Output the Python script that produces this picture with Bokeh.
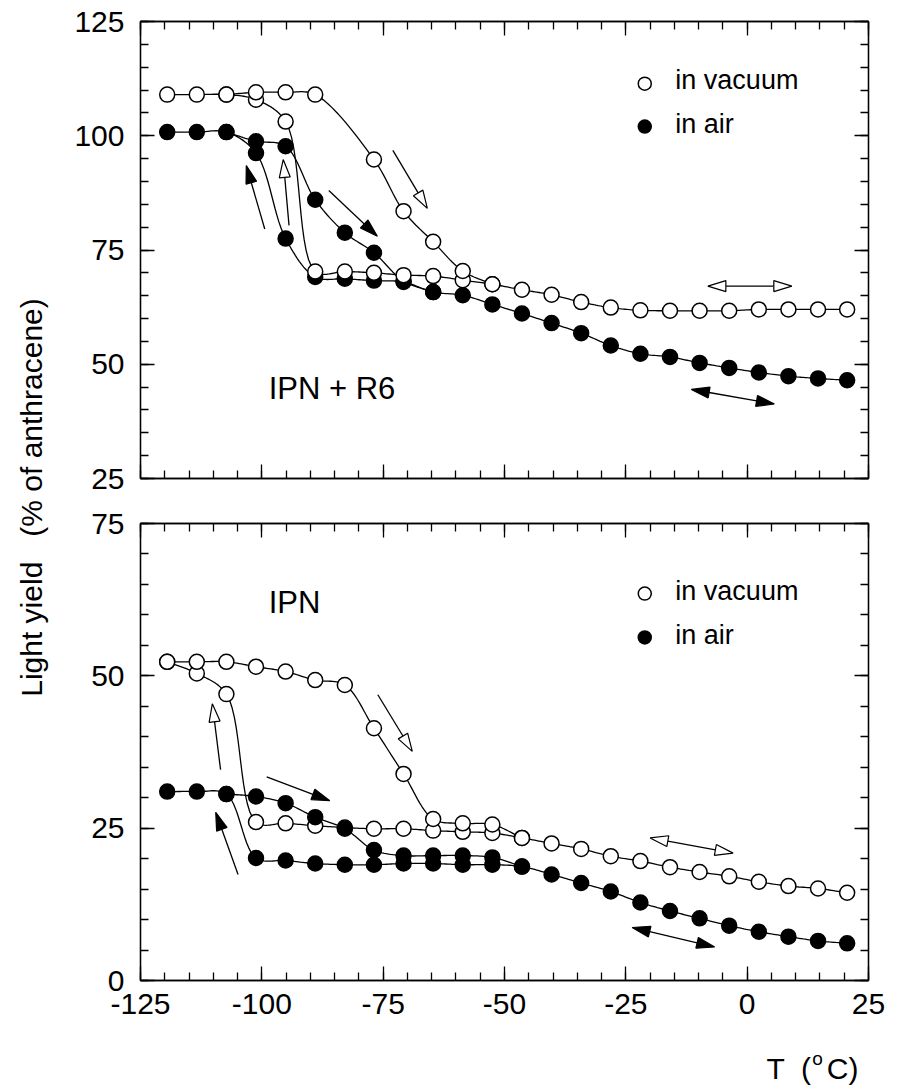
import numpy as np
from bokeh.plotting import figure
from bokeh.layouts import row, column
from bokeh.models import Range1d, LinearAxis, SingleIntervalTicker, Label
from bokeh.embed import file_html
from bokeh.resources import INLINE

FONT = "Liberation Sans"

# ---------------- data ----------------
temps = [-119.5, -113.4, -107.3, -101.2, -95.1, -89.0, -82.9, -76.9, -70.8, -64.7,
         -58.6, -52.5, -46.4, -40.3, -34.2, -28.1, -22.0, -15.9, -9.8, -3.7,
         2.4, 8.5, 14.6, 20.6]

x_ticks = [-125, -100, -75, -50, -25, 0, 25]
x_tick_labels = ["-125", "-100", "-75", "-50", "-25", "0", "25"]

# IPN + R6 (upper panel)
r6_vac_cool = [109.0, 109.0, 109.0, 107.9, 103.1, 70.3, 70.3, 70.0, 69.5, 69.3,
               68.4, 67.5, 66.3, 65.2, 63.6, 62.4, 61.8, 61.7, 61.7, 61.7,
               62.0, 62.0, 62.0, 62.0]
r6_vac_heat_T = [-107.3, -101.2, -95.1, -89.0, -76.9, -70.8, -64.7, -58.6, -52.5]
r6_vac_heat = [109.0, 109.5, 109.5, 109.0, 94.8, 83.5, 76.8, 70.4, 67.5]

r6_air_cool = [100.8, 100.8, 100.8, 96.2, 77.5, 69.1, 68.7, 68.3, 68.0, 65.8,
               65.1, 63.1, 61.1, 59.0, 56.8, 54.1, 52.3, 51.6, 50.3, 49.2,
               48.2, 47.4, 46.9, 46.5]
r6_air_heat_T = [-107.3, -101.2, -95.1, -89.0, -82.9, -76.9, -70.8, -64.7]
r6_air_heat = [100.8, 98.8, 97.7, 86.0, 78.8, 74.4, 68.2, 65.8]

# IPN (lower panel)
ipn_vac_cool = [52.3, 50.4, 47.0, 26.0, 25.8, 25.4, 25.1, 24.9, 24.9, 24.6,
                24.4, 24.2, 23.4, 22.5, 21.6, 20.4, 19.6, 18.6, 17.8, 17.1,
                16.2, 15.5, 15.1, 14.4]
ipn_vac_heat_T = [-119.5, -113.4, -107.3, -101.2, -95.1, -89.0, -82.9, -76.9,
                  -70.8, -64.7, -58.6, -52.5, -46.4]
ipn_vac_heat = [52.3, 52.3, 52.3, 51.5, 50.7, 49.3, 48.5, 41.4, 33.9, 26.5,
                25.8, 25.6, 23.4]

ipn_air_cool = [31.0, 31.0, 30.6, 20.1, 19.7, 19.2, 19.0, 19.0, 19.2, 19.2,
                19.0, 19.0, 18.7, 17.4, 16.0, 14.6, 12.8, 11.4, 10.2, 9.0,
                8.0, 7.2, 6.5, 6.1]
ipn_air_heat_T = [-107.3, -101.2, -95.1, -89.0, -82.9, -76.9, -70.8, -64.7,
                  -58.6, -52.5, -46.4]
ipn_air_heat = [30.6, 30.2, 29.1, 26.8, 24.9, 21.4, 20.5, 20.5, 20.5, 20.2, 18.7]

# arrows: start x, start y, end x, end y, head fill, double-headed
r6_arrow_x0 = [-73.0, -86.2, -94.4, -99.4, -8.1, -11.5]
r6_arrow_y0 = [96.8, 88.0, 80.4, 79.6, 67.1, 44.5]
r6_arrow_x1 = [-65.9, -76.2, -95.6, -103.2, 9.2, 5.6]
r6_arrow_y1 = [84.1, 78.0, 94.8, 93.5, 67.1, 41.3]
r6_arrow_fill = ["white", "black", "white", "black", "white", "black"]
r6_arrow_both = [False, False, False, False, True, True]

ipn_arrow_x0 = [-108.5, -104.9, -99.0, -76.1, -20.0, -23.7]
ipn_arrow_y0 = [34.6, 17.4, 33.4, 46.9, 23.4, 8.7]
ipn_arrow_x1 = [-110.2, -109.5, -86.0, -69.0, -2.9, -6.7]
ipn_arrow_y1 = [45.4, 27.6, 29.5, 37.6, 20.9, 5.5]
ipn_arrow_fill = ["white", "black", "black", "white", "white", "black"]
ipn_arrow_both = [False, False, False, False, True, True]

legend_labels = ["in vacuum", "in air"]
panel_titles = ["IPN + R6", "IPN"]

# ---------------- geometry / style ----------------
FW, FH = 728, 457
XR = (-125, 25)
SX = FW / (XR[1] - XR[0])
LW = 1.3
MS = 15
HEAD_LEN, HEAD_HW = 18.0, 5.5
TICK_FS = "30px"
TITLE_FS = "31px"
LEG_FS = "27px"


def smooth(xs, ys, sx, sy, n=14):
    """Centripetal Catmull-Rom curve through the data points (drawing only)."""
    P = np.column_stack([np.asarray(xs, float) * sx, np.asarray(ys, float) * sy])
    P = np.vstack([2 * P[0] - P[1], P, 2 * P[-1] - P[-2]])
    out = []
    m = len(P)
    for i in range(1, m - 2):
        p0, p1, p2, p3 = P[i - 1], P[i], P[i + 1], P[i + 2]

        def tj(ti, a, b):
            return ti + max(np.linalg.norm(b - a), 1e-6) ** 0.5
        t0 = 0.0
        t1 = tj(t0, p0, p1)
        t2 = tj(t1, p1, p2)
        t3 = tj(t2, p2, p3)
        t = np.linspace(t1, t2, n, endpoint=(i == m - 3))[:, None]
        A1 = (t1 - t) / (t1 - t0) * p0 + (t - t0) / (t1 - t0) * p1
        A2 = (t2 - t) / (t2 - t1) * p1 + (t - t1) / (t2 - t1) * p2
        A3 = (t3 - t) / (t3 - t2) * p2 + (t - t2) / (t3 - t2) * p3
        B1 = (t2 - t) / (t2 - t0) * A1 + (t - t0) / (t2 - t0) * A2
        B2 = (t3 - t) / (t3 - t1) * A2 + (t - t1) / (t3 - t1) * A3
        out.append((t2 - t) / (t2 - t1) * B1 + (t - t1) / (t2 - t1) * B2)
    C = np.vstack(out)
    return C[:, 0] / sx, C[:, 1] / sy


def draw_arrow(p, x0, y0, x1, y1, fill, both, sy):
    a = np.array([x0 * SX, y0 * sy])
    b = np.array([x1 * SX, y1 * sy])
    u = (b - a) / np.linalg.norm(b - a)
    nrm = np.array([-u[1], u[0]])
    s0 = a + u * HEAD_LEN if both else a
    s1 = b - u * HEAD_LEN
    p.line([s0[0] / SX, s1[0] / SX], [s0[1] / sy, s1[1] / sy],
           line_color="black", line_width=LW)
    heads = [(b, u)] + ([(a, -u)] if both else [])
    for tip, d in heads:
        base = tip - d * HEAD_LEN
        pts = [tip, base + nrm * HEAD_HW, base - nrm * HEAD_HW]
        p.patch([q[0] / SX for q in pts], [q[1] / sy for q in pts],
                fill_color=fill, line_color="black", line_width=1.2)


def style_axis(ax, labels, standoff=0, overrides=None):
    ax.ticker = SingleIntervalTicker(interval=25, num_minor_ticks=5)
    ax.major_tick_in = 14
    ax.major_tick_out = 0
    ax.minor_tick_in = 8
    ax.minor_tick_out = 0
    ax.axis_line_color = "black"
    ax.axis_line_width = LW
    ax.major_tick_line_color = "black"
    ax.major_tick_line_width = LW
    ax.minor_tick_line_color = "black"
    ax.minor_tick_line_width = LW
    ax.axis_label = None
    if labels:
        ax.major_label_text_font = FONT
        ax.major_label_text_font_size = TICK_FS
        ax.major_label_text_color = "black"
        ax.major_label_standoff = standoff
        if overrides:
            ax.major_label_overrides = overrides
    else:
        ax.major_label_text_font_size = "0px"
        ax.major_label_text_color = None
        ax.major_label_standoff = 0


def make_panel(yr, border_top, border_bottom, bottom_labels):
    p = figure(x_range=Range1d(*XR), y_range=Range1d(*yr),
               frame_width=FW, frame_height=FH,
               output_backend="svg", toolbar_location=None,
               min_border_left=82, min_border_right=25,
               min_border_top=border_top, min_border_bottom=border_bottom)
    p.xgrid.grid_line_color = None
    p.ygrid.grid_line_color = None
    p.outline_line_color = "black"
    p.outline_line_width = LW
    p.background_fill_color = "white"
    p.border_fill_color = "white"
    style_axis(p.xaxis[0], bottom_labels, 13,
               {t: s for t, s in zip(x_ticks, x_tick_labels)})
    style_axis(p.yaxis[0], True, 16)
    ra = LinearAxis()
    style_axis(ra, False)
    p.add_layout(ra, "right")
    ta = LinearAxis()
    style_axis(ta, False)
    p.add_layout(ta, "above")
    return p


def draw_series(p, xs, ys, fill, sy):
    sxs, sys_ = smooth(xs, ys, SX, sy)
    p.line(sxs, sys_, line_color="black", line_width=LW)
    p.scatter(xs, ys, size=MS, marker="circle", fill_color=fill,
              line_color="black", line_width=1.5)


def add_text(p, x, y, text, size=TITLE_FS, align="left"):
    p.add_layout(Label(x=x, y=y, text=text, text_font=FONT, text_font_size=size,
                       text_color="black", text_align=align,
                       text_baseline="middle"))


# ---------------- upper panel: IPN + R6 ----------------
top = make_panel((25, 125), 21, 22, False)
SY_TOP = FH / 100.0
draw_series(top, temps, r6_air_cool, "black", SY_TOP)
draw_series(top, r6_air_heat_T, r6_air_heat, "black", SY_TOP)
draw_series(top, temps, r6_vac_cool, "white", SY_TOP)
draw_series(top, r6_vac_heat_T, r6_vac_heat, "white", SY_TOP)
for i in range(len(r6_arrow_x0)):
    draw_arrow(top, r6_arrow_x0[i], r6_arrow_y0[i], r6_arrow_x1[i], r6_arrow_y1[i],
               r6_arrow_fill[i], r6_arrow_both[i], SY_TOP)
top.scatter([-21.1], [111.4], size=13, marker="circle", fill_color="white",
            line_color="black", line_width=1.5)
top.scatter([-21.1], [102.0], size=13, marker="circle", fill_color="black",
            line_color="black", line_width=1.5)
add_text(top, -14.8, 112.2, legend_labels[0], LEG_FS)
add_text(top, -14.8, 102.6, legend_labels[1], LEG_FS)
add_text(top, -98.6, 44.8, panel_titles[0])

# ---------------- lower panel: IPN ----------------
bot = make_panel((0, 75), 23, 50, True)
SY_BOT = FH / 75.0
draw_series(bot, temps, ipn_vac_cool, "white", SY_BOT)
draw_series(bot, ipn_vac_heat_T, ipn_vac_heat, "white", SY_BOT)
draw_series(bot, temps, ipn_air_cool, "black", SY_BOT)
draw_series(bot, ipn_air_heat_T, ipn_air_heat, "black", SY_BOT)
for i in range(len(ipn_arrow_x0)):
    draw_arrow(bot, ipn_arrow_x0[i], ipn_arrow_y0[i], ipn_arrow_x1[i], ipn_arrow_y1[i],
               ipn_arrow_fill[i], ipn_arrow_both[i], SY_BOT)
bot.scatter([-21.1], [63.5], size=13, marker="circle", fill_color="white",
            line_color="black", line_width=1.5)
bot.scatter([-21.1], [56.3], size=13, marker="circle", fill_color="black",
            line_color="black", line_width=1.5)
add_text(bot, -14.8, 63.9, legend_labels[0], LEG_FS)
add_text(bot, -14.8, 56.7, legend_labels[1], LEG_FS)
add_text(bot, -98.6, 62.0, panel_titles[1])

# ---------------- x-axis title "T  (oC)" in a strip below ----------------
xl = figure(x_range=Range1d(*XR), y_range=Range1d(0, 60),
            frame_width=FW, frame_height=60,
            output_backend="svg", toolbar_location=None,
            x_axis_location=None, y_axis_location=None,
            min_border_left=82, min_border_right=25,
            min_border_top=0, min_border_bottom=0)
xl.xgrid.grid_line_color = None
xl.ygrid.grid_line_color = None
xl.outline_line_color = None
add_text(xl, 4.0, 22.0, "T \u00a0(", TICK_FS)
add_text(xl, 13.4, 32.0, "o", "19px")
add_text(xl, 16.4, 22.0, "C)", TICK_FS)

# ---------------- shared y-axis title ----------------
lab = figure(width=58, height=1090, x_range=Range1d(0, 58), y_range=Range1d(0, 1090),
             output_backend="svg", toolbar_location=None,
             x_axis_location=None, y_axis_location=None, min_border=0)
lab.xgrid.grid_line_color = None
lab.ygrid.grid_line_color = None
lab.outline_line_color = None
lab.add_layout(Label(x=31, y=1090 - 497, text="Light yield \u00a0 (% of anthracene)",
                     angle=np.pi / 2, text_font=FONT, text_font_size=TICK_FS,
                     text_color="black", text_align="center", text_baseline="middle"))

layout = row(lab, column(top, bot, xl))
open("out.html", "w").write(file_html(layout, INLINE))
